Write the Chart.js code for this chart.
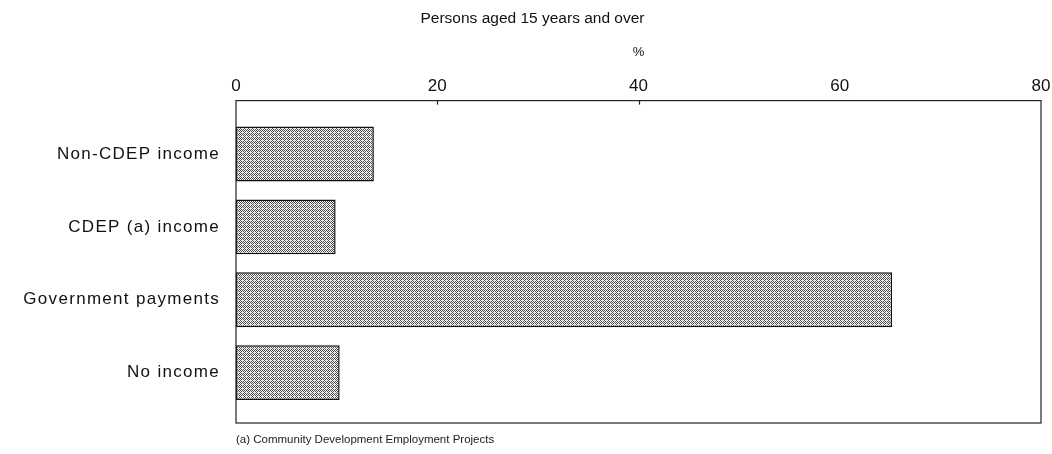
<!DOCTYPE html>
<html>
<head>
<meta charset="utf-8">
<script src="https://cdn.jsdelivr.net/npm/chart.js@4"></script>
<style>
  html, body { margin: 0; padding: 0; background: #fff; }
  #wrap { position: relative; width: 1052px; height: 454px; }
</style>
</head>
<body>
<div id="wrap"><canvas id="grafico"></canvas></div>
<script>
// Dados
const categorias = ['Non-CDEP income', 'CDEP (a) income', 'Government payments', 'No income'];
const percentuais = [13.7, 9.9, 65.2, 10.3];
const ticksX = [0, 20, 40, 60, 80];
const titulo = 'Persons aged 15 years and over';
const tituloEixo = '%';
const nota = '(a) Community Development Employment Projects';

const FONTE = "'Liberation Sans', Arial, Helvetica, sans-serif";

// padrão pontilhado cinza das barras
function criarPadrao(){
    const c = document.createElement('canvas');
    c.width = 4; c.height = 4;
    const g = c.getContext('2d');
    g.fillStyle = '#fbfbfb';
    g.fillRect(0, 0, 4, 4);
    g.fillStyle = '#4a4a4a';
    for(let y = 0; y < 4; y++){
        for(let x = 0; x < 4; x++){
            if((x + y) % 2 === 0) g.fillRect(x, y, 1, 1);
        }
    }
    g.fillStyle = '#d0d0d0';
    g.fillRect(2, 0, 1, 1);
    return g.createPattern(c, 'repeat');
}

// moldura do gráfico e nota de rodapé
const molduraPlugin = {
    id: 'moldura',
    afterDraw(chart){
        const {ctx, chartArea} = chart;
        const x = chart.scales.x;
        const topo = chartArea.top - 17;
        const base = chartArea.bottom + 14;
        ctx.save();
        ctx.strokeStyle = '#222';
        ctx.lineWidth = 1.2;
        ctx.strokeRect(x.getPixelForValue(0), topo, x.getPixelForValue(80) - x.getPixelForValue(0), base - topo);
        // pequenas marcas no eixo superior
        [20, 40].forEach(v => {
            const px = Math.round(x.getPixelForValue(v)) + 0.5;
            ctx.beginPath(); ctx.moveTo(px, topo); ctx.lineTo(px, topo + 4); ctx.stroke();
        });
        ctx.fillStyle = '#222';
        ctx.font = '11.5px ' + FONTE;
        ctx.textAlign = 'left';
        ctx.textBaseline = 'middle';
        ctx.fillText(nota, x.getPixelForValue(0), 440);
        ctx.restore();
    }
};

// rótulos das categorias um pouco mais espaçados
function espacarRotulos(s){
    if(s._espacado) return;
    const original = s.drawLabels.bind(s);
    s.drawLabels = area => {
        s.ctx.save();
        s.ctx.letterSpacing = '1.3px';
        original(area);
        s.ctx.restore();
    };
    s._espacado = true;
}

const grafico = new Chart(document.getElementById('grafico'), {
    type: 'bar',
    data: {
        labels: categorias,
        datasets: [{
            data: percentuais,
            backgroundColor: criarPadrao(),
            borderColor: '#111',
            borderWidth: 1.5,
            borderSkipped: false,
            barPercentage: 0.753,
            categoryPercentage: 1
        }]
    },
    options: {
        indexAxis: 'y',
        responsive: true,
        maintainAspectRatio: false,
        animation: false,
        layout: { padding: { left: 24, right: 11, top: 0, bottom: 45 } },
        plugins: {
            legend: { display: false },
            tooltip: { enabled: false },
            title: {
                display: true,
                text: titulo,
                color: '#111',
                font: { family: FONTE, size: 15.5, weight: 'normal' },
                padding: { top: 9, bottom: 0 }
            }
        },
        scales: {
            x: {
                position: 'top',
                min: 0,
                max: 80,
                afterBuildTicks: s => { s.ticks = ticksX.map(v => ({ value: v })); },
                afterFit: s => { s.height = 90; s.paddingLeft = 0; s.paddingRight = 0; },
                grid: { display: false, drawTicks: false },
                border: { display: false },
                title: {
                    display: true,
                    text: tituloEixo,
                    color: '#111',
                    font: { family: FONTE, size: 13 },
                    padding: { top: 17, bottom: 0 }
                },
                ticks: {
                    color: '#111',
                    padding: 21,
                    maxRotation: 0,
                    font: { family: FONTE, size: 17 }
                }
            },
            y: {
                afterFit: s => { s.width = 212; s.paddingTop = 0; s.paddingBottom = 0; },
                afterUpdate: espacarRotulos,
                grid: { display: false, drawTicks: false },
                border: { display: false },
                ticks: {
                    color: '#111',
                    padding: 16,
                    font: { family: FONTE, size: 17 }
                }
            }
        }
    },
    plugins: [molduraPlugin]
});
</script>
</body>
</html>
